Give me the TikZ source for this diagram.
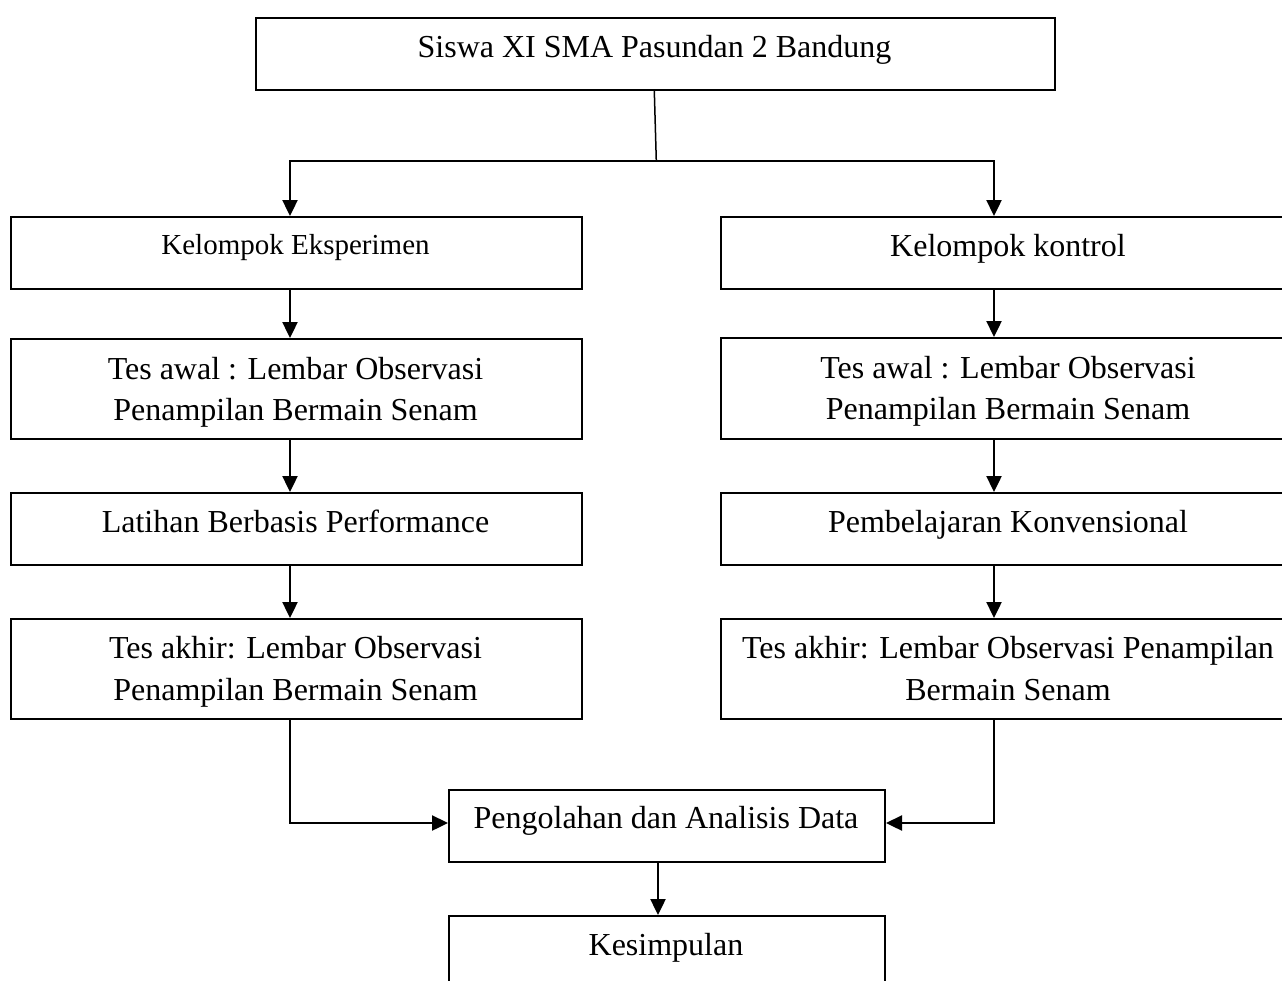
\documentclass[tikz,border=0pt]{standalone}
\usepackage{fontspec}
\setmainfont{Liberation Serif}
\usetikzlibrary{arrows.meta}
\begin{document}
\begin{tikzpicture}[x=1pt,y=-1pt,
  box/.style={draw=black,line width=2pt,rectangle,inner sep=0pt,anchor=north west},
  txt/.style={inner sep=0pt,anchor=base,font=\fontsize{32pt}{41pt}\selectfont},
  smalltxt/.style={inner sep=0pt,anchor=base,font=\fontsize{29pt}{36pt}\selectfont},
  arr/.style={line width=2.4pt,-{Triangle[length=16pt,width=15pt]}},
  thinln/.style={line width=1.5pt}]
\useasboundingbox (0,0) rectangle (1282,980);
\clip (0,0) rectangle (1282,980);
% boxes
\node[box,minimum width=799pt,minimum height=72pt] (T) at (255,17) {};
\node[box,minimum width=571pt,minimum height=72pt] (L1) at (10,216) {};
\node[box,minimum width=571pt,minimum height=100pt] (L2) at (10,338) {};
\node[box,minimum width=571pt,minimum height=72pt] (L3) at (10,492) {};
\node[box,minimum width=571pt,minimum height=100pt] (L4) at (10,618) {};
\node[box,minimum width=576pt,minimum height=72pt] (R1) at (720,216) {};
\node[box,minimum width=576pt,minimum height=101pt] (R2) at (720,337) {};
\node[box,minimum width=576pt,minimum height=72pt] (R3) at (720,492) {};
\node[box,minimum width=576pt,minimum height=100pt] (R4) at (720,618) {};
\node[box,minimum width=436pt,minimum height=72pt] (B5) at (448,789) {};
\node[box,minimum width=436pt,minimum height=72pt] (B6) at (448,915) {};
% texts
\node[txt] (tT) at (654.5,57) {Siswa XI SMA Pasundan 2 Bandung};
\node[smalltxt] (tL1) at (295.5,254) {Kelompok Eksperimen};
\node[txt] (tL2a) at (295.5,379) {Tes awal : Lembar Observasi};
\node[txt] (tL2b) at (295.5,420) {Penampilan Bermain Senam};
\node[txt] (tL3) at (295.5,532) {Latihan Berbasis Performance};
\node[txt] (tL4a) at (295.5,658) {Tes akhir: Lembar Observasi};
\node[txt] (tL4b) at (295.5,700) {Penampilan Bermain Senam};
\node[txt] (tR1) at (1008,256) {Kelompok kontrol};
\node[txt] (tR2a) at (1008,378) {Tes awal : Lembar Observasi};
\node[txt] (tR2b) at (1008,419) {Penampilan Bermain Senam};
\node[txt] (tR3) at (1008,532) {Pembelajaran Konvensional};
\node[txt] (tR4a) at (1008,658) {Tes akhir: Lembar Observasi Penampilan};
\node[txt] (tR4b) at (1008,700) {Bermain Senam};
\node[txt] (tB5) at (666,828) {Pengolahan dan Analisis Data};
\node[txt] (tB6) at (666,955) {Kesimpulan};
% helper coordinates
\coordinate (xT) at (654.3,0);
\coordinate (jn) at (656.3,161);
\coordinate (xL) at (290,0);
\coordinate (xR) at (994,0);
\coordinate (xM) at (658,0);
\coordinate (yH) at (0,823);
% connectors
\draw[thinln] (T.south -| xT) -- (jn);
\draw[arr] (jn) -| (L1.north -| xL);
\draw[arr] (jn) -| (R1.north -| xR);
\draw[arr] (L1.south -| xL) -- (L2.north -| xL);
\draw[arr] (L2.south -| xL) -- (L3.north -| xL);
\draw[arr] (L3.south -| xL) -- (L4.north -| xL);
\draw[arr] (R1.south -| xR) -- (R2.north -| xR);
\draw[arr] (R2.south -| xR) -- (R3.north -| xR);
\draw[arr] (R3.south -| xR) -- (R4.north -| xR);
\draw[arr] (L4.south -| xL) |- (B5.west |- yH);
\draw[arr] (R4.south -| xR) |- (B5.east |- yH);
\draw[arr] (B5.south -| xM) -- (B6.north -| xM);
\end{tikzpicture}
\end{document}
